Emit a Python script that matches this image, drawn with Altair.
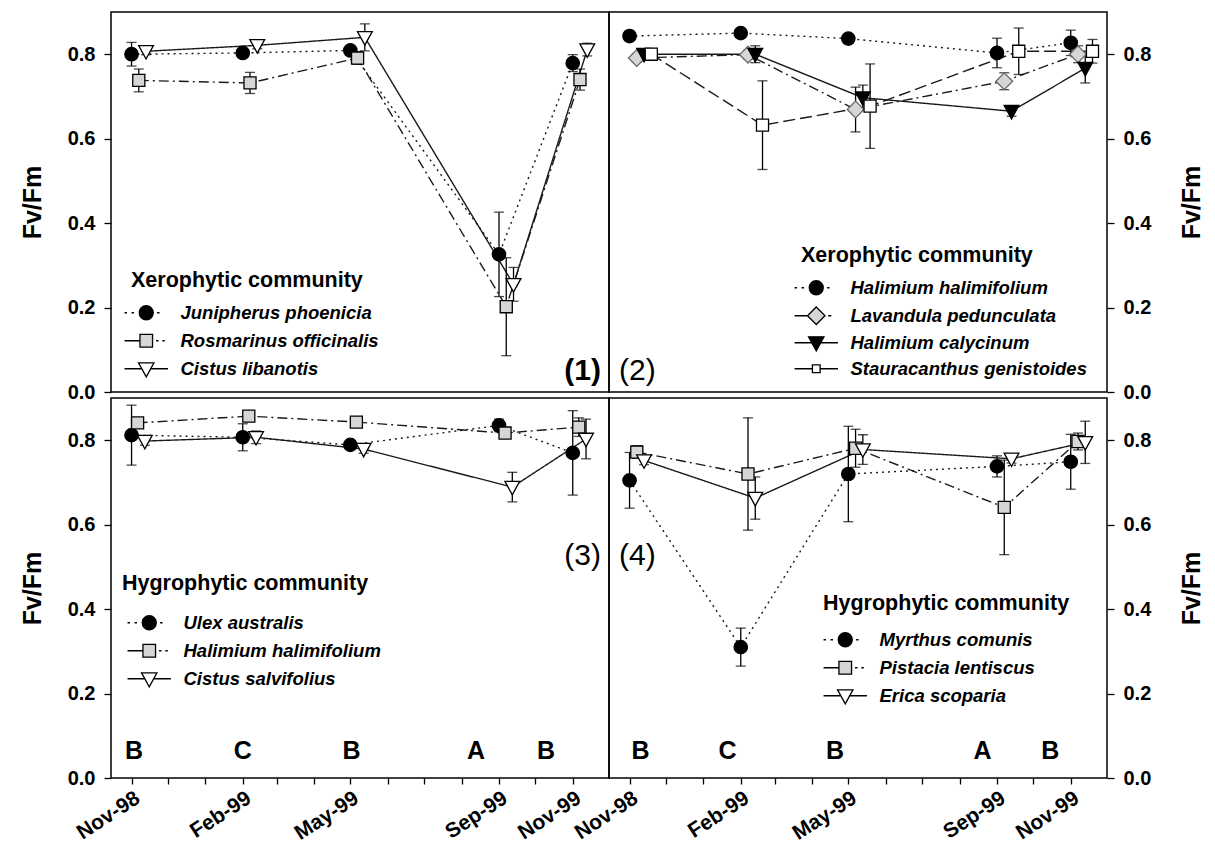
import altair as alt
import pandas as pd

# ---------------- data ----------------
months = ["1998-11-01", "1999-02-01", "1999-05-01", "1999-09-01", "1999-11-01"]
tick_months = ["1998-11-01", "1998-12-01", "1999-01-01", "1999-02-01", "1999-03-01",
               "1999-04-01", "1999-05-01", "1999-06-01", "1999-07-01", "1999-08-01",
               "1999-09-01", "1999-10-01", "1999-11-01"]
shown_labels = ["Nov-98", "Feb-99", "May-99", "Sep-99", "Nov-99"]

# Panel (1) Xerophytic community
p1_species = ["Junipherus phoenicia", "Rosmarinus officinalis", "Cistus libanotis"]
p1_day_shift = [0, 6, 12]
junipherus_val = [0.800, 0.803, 0.809, 0.326, 0.779]
junipherus_err = [0.028, 0.008, 0.010, 0.100, 0.020]
rosmarinus_val = [0.738, 0.732, 0.791, 0.202, 0.740]
rosmarinus_err = [0.027, 0.025, 0.015, 0.116, 0.025]
cistus_lib_val = [0.807, 0.821, 0.840, 0.255, 0.811]
cistus_lib_err = [0.008, 0.008, 0.032, 0.040, 0.015]

# Panel (2) Xerophytic community
p2_species = ["Halimium halimifolium", "Lavandula pedunculata", "Halimium calycinum",
              "Stauracanthus genistoides"]
p2_day_shift = [0, 6, 12, 18]
halim_x_val = [0.843, 0.850, 0.837, 0.803, 0.827]
halim_x_err = [0.008, 0.010, 0.010, 0.035, 0.030]
lavandula_val = [0.791, 0.799, 0.669, 0.736, 0.800]
lavandula_err = [0.010, 0.010, 0.053, 0.020, 0.020]
calycinum_val = [0.800, 0.800, 0.697, 0.665, 0.767]
calycinum_err = [0.010, 0.020, 0.030, 0.012, 0.035]
stauracanthus_val = [0.800, 0.632, 0.677, 0.807, 0.807]
stauracanthus_err = [0.012, 0.105, 0.100, 0.055, 0.028]

# Panel (3) Hygrophytic community
p3_species = ["Ulex australis", "Halimium halimifolium", "Cistus salvifolius"]
p3_day_shift = [0, 5, 11]
ulex_val = [0.812, 0.807, 0.789, 0.835, 0.770]
ulex_err = [0.071, 0.032, 0.008, 0.015, 0.100]
halim_h_val = [0.841, 0.857, 0.843, 0.817, 0.831]
halim_h_err = [0.010, 0.010, 0.008, 0.010, 0.022]
cistus_sal_val = [0.798, 0.807, 0.779, 0.689, 0.803]
cistus_sal_err = [0.010, 0.015, 0.010, 0.035, 0.047]

# Panel (4) Hygrophytic community
p4_species = ["Myrthus comunis", "Pistacia lentiscus", "Erica scoparia"]
p4_day_shift = [0, 6, 12]
myrthus_val = [0.705, 0.310, 0.720, 0.738, 0.749]
myrthus_err = [0.066, 0.045, 0.113, 0.025, 0.065]
pistacia_val = [0.772, 0.720, 0.781, 0.641, 0.797]
pistacia_err = [0.015, 0.133, 0.045, 0.112, 0.020]
erica_val = [0.752, 0.663, 0.778, 0.756, 0.795]
erica_err = [0.010, 0.050, 0.035, 0.010, 0.050]

# significance letters under the bottom panels
letters = ["B", "C", "B", "A", "B"]
p3_letter_dates = ["1998-11-03", "1999-02-01", "1999-05-02", "1999-08-13", "1999-10-10"]
p4_letter_dates = ["1998-11-10", "1999-01-21", "1999-04-20", "1999-08-20", "1999-10-15"]

# ---------------- styles ----------------
FONT = "Liberation Sans"
CIRCLE = "M1,0A1,1,0,1,1,-1,0A1,1,0,1,1,1,0Z"
SQUARE = "M-0.9,-0.9H0.9V0.9H-0.9Z"
TRI = "M-1.1,-0.85H1.1L0,1.15Z"
DIAMOND = "M0,-1.25L1.25,0L0,1.25L-1.25,0Z"
SMALLSQ = "M-0.55,-0.55H0.55V0.55H-0.55Z"

DOT = [2, 4]
DASHDOT = [10, 4, 2, 4]
SOLID = [1, 0]
LONGDASH = [12, 5]

L_DOT = "M-3.1,0h0.35M-2.1,0h0.35M1.55,0h0.35"
L_DASHDOT = "M-3.1,0H-0.9M1.4,0h0.35M2.3,0h0.35"
L_DASHDOT_D = "M-3.1,0H-1.25M1.7,0h0.45"
L_SOLID_T = "M-3.1,0H-0.6M0.6,0H3.1"
L_SOLID_S = "M-3.1,0H-0.55M0.55,0H3.1"

STYLE = {
    "circle_dot": dict(marker=CIRCLE, fill="#000000", stroke="#000000", dash=DOT, legend=L_DOT + CIRCLE),
    "square_dd": dict(marker=SQUARE, fill="#d6d6d6", stroke="#000000", dash=DASHDOT, legend=L_DASHDOT + SQUARE),
    "tri_white": dict(marker=TRI, fill="#ffffff", stroke="#000000", dash=SOLID, legend=L_SOLID_T + TRI),
    "tri_black": dict(marker=TRI, fill="#000000", stroke="#000000", dash=SOLID, legend=L_SOLID_T + TRI),
    "diamond_dd": dict(marker=DIAMOND, fill="#d6d6d6", stroke="#666666", dash=DASHDOT, legend=L_DASHDOT_D + DIAMOND),
    "square_white": dict(marker=SQUARE, fill="#ffffff", stroke="#000000", dash=LONGDASH, legend=L_SOLID_S + SMALLSQ),
}


def utc(s):
    return alt.DateTime(year=int(s[:4]), month=int(s[5:7]), date=int(s[8:10]), utc=True)


x_scale = alt.Scale(type="utc", domain=[utc("1998-10-15"), utc("1999-12-01")])
y_scale = alt.Scale(domain=[0, 0.9], nice=False, zero=False)

label_expr = ("indexof(" + str(shown_labels) + ", utcFormat(datum.value, '%b-%y')) >= 0"
              " ? utcFormat(datum.value, '%b-%y') : ''")


def build_df(species, shifts, vals, errs):
    rows = []
    for sp, sh, v, e in zip(species, shifts, vals, errs):
        for d, vv, ee in zip(months, v, e):
            day = (pd.Timestamp(d) + pd.Timedelta(days=sh)).strftime("%Y-%m-%d")
            rows.append({"species": sp, "date": day, "value": vv, "err": ee})
    return pd.DataFrame(rows)


def panel(df, species, styles, title, lx, ly, soff, tpad, rpad, side, show_x, plabel, px, py,
          palign, pweight, letter_dates=None):
    if show_x:
        x_axis = alt.Axis(values=[utc(s) for s in tick_months], labelExpr=label_expr,
                          labelAngle=327, labelAlign="right", labelBaseline="top",
                          labelFontSize=21, labelFontWeight="bold", labelPadding=3,
                          labelOverlap=False, tickSize=6, tickWidth=1.3, title=None)
    else:
        x_axis = None
    x = alt.X("date:T", scale=x_scale, axis=x_axis)
    y_axis = alt.Axis(orient=side, values=[0, 0.2, 0.4, 0.6, 0.8], format=".1f",
                      labelFontSize=20, labelFontWeight="bold", labelPadding=9,
                      tickSize=7, tickWidth=1.3, title="Fv/Fm", titleFontSize=25,
                      titleFontWeight="bold", titlePadding=(22 if side == "left" else 29),
                      titleAngle=270, titleBaseline=("bottom" if side == "left" else "top"))

    def Y(field):
        return alt.Y(field, scale=y_scale, axis=y_axis)

    base = alt.Chart(df)
    lines = base.mark_line(color="#1a1a1a", strokeWidth=1.4).encode(
        x=x, y=Y("value:Q"),
        strokeDash=alt.StrokeDash("species:N", scale=alt.Scale(
            domain=species, range=[STYLE[s]["dash"] for s in styles]), legend=None),
    )
    eb = base.transform_calculate(lo="datum.value - datum.err", hi="datum.value + datum.err")
    rules = eb.mark_rule(color="black", strokeWidth=1.3).encode(x=x, y=Y("lo:Q"), y2="hi:Q")
    cap_lo = eb.mark_tick(orient="horizontal", size=10, thickness=1.3, color="black").encode(
        x=x, y=Y("lo:Q"))
    cap_hi = eb.mark_tick(orient="horizontal", size=10, thickness=1.3, color="black").encode(
        x=x, y=Y("hi:Q"))
    points = base.mark_point(filled=True, size=180, strokeWidth=1.3, opacity=1).encode(
        x=x, y=Y("value:Q"),
        shape=alt.Shape("species:N", scale=alt.Scale(
            domain=species, range=[STYLE[s]["marker"] for s in styles]), legend=None),
        fill=alt.Fill("species:N", scale=alt.Scale(
            domain=species, range=[STYLE[s]["fill"] for s in styles]), legend=None),
        stroke=alt.Stroke("species:N", scale=alt.Scale(
            domain=species, range=[STYLE[s]["stroke"] for s in styles]), legend=None),
    )
    # legend: an empty layer whose shape scale holds line+marker glyphs
    legend = alt.Legend(
        title=title, orient="none", legendX=lx, legendY=ly, direction="vertical",
        padding=0, symbolSize=196, symbolOffset=soff, labelOffset=25, rowPadding=rpad,
        titlePadding=tpad, titleFontSize=21.5, titleFontWeight="bold", titleFont=FONT,
        titleLimit=400, labelLimit=400, labelFontSize=18.5, labelFontStyle="italic",
        labelFontWeight="bold", labelFont=FONT, labelColor="black", titleColor="black",
        symbolStrokeWidth=1.3, symbolOpacity=1,
    )
    leg_df = pd.DataFrame({"entry": pd.Series([], dtype="object")})
    leg = alt.Chart(leg_df).mark_point(filled=True, opacity=1).encode(
        shape=alt.Shape("entry:N", scale=alt.Scale(
            domain=species, range=[STYLE[s]["legend"] for s in styles]), legend=legend),
        fill=alt.Fill("entry:N", scale=alt.Scale(
            domain=species, range=[STYLE[s]["fill"] for s in styles]), legend=legend),
        stroke=alt.Stroke("entry:N", scale=alt.Scale(
            domain=species, range=["#000000" for s in styles]), legend=legend),
    )
    lab = alt.Chart(pd.DataFrame({"t": [plabel]})).mark_text(
        align=palign, baseline="middle", fontSize=30, fontWeight=pweight, font=FONT,
        color="black").encode(text="t:N", x=alt.value(px), y=alt.value(py))
    layers = [lines, rules, cap_lo, cap_hi, points, leg, lab]
    if letter_dates is not None:
        ldf = pd.DataFrame({"date": letter_dates, "letter": letters})
        let = alt.Chart(ldf).mark_text(fontSize=25, fontWeight="bold", font=FONT,
                                       baseline="middle", color="black").encode(
            x=x, y=alt.value(353), text="letter:N")
        layers.append(let)
    return alt.layer(*layers).resolve_scale(
        shape="independent", fill="independent", stroke="independent"
    ).properties(width=498, height=380)


df1 = build_df(p1_species, p1_day_shift,
               [junipherus_val, rosmarinus_val, cistus_lib_val],
               [junipherus_err, rosmarinus_err, cistus_lib_err])
df2 = build_df(p2_species, p2_day_shift,
               [halim_x_val, lavandula_val, calycinum_val, stauracanthus_val],
               [halim_x_err, lavandula_err, calycinum_err, stauracanthus_err])
df3 = build_df(p3_species, p3_day_shift,
               [ulex_val, halim_h_val, cistus_sal_val],
               [ulex_err, halim_h_err, cistus_sal_err])
df4 = build_df(p4_species, p4_day_shift,
               [myrthus_val, pistacia_val, erica_val],
               [myrthus_err, pistacia_err, erica_err])

c1 = panel(df1, p1_species, ["circle_dot", "square_dd", "tri_white"], "Xerophytic community",
           20, 258, 6, 12, 9, "left", False, "(1)", 490, 359, "right", "bold")
c2 = panel(df2, p2_species, ["circle_dot", "diamond_dd", "tri_black", "square_white"],
           "Xerophytic community", 192, 233, 6, 12, 6, "right", False, "(2)", 10, 359, "left",
           "normal")
c3 = panel(df3, p3_species, ["circle_dot", "square_dd", "tri_white"], "Hygrophytic community",
           11, 175, 18, 19, 9, "left", True, "(3)", 490, 158, "right", "normal", p3_letter_dates)
c4 = panel(df4, p4_species, ["circle_dot", "square_dd", "tri_white"], "Hygrophytic community",
           214, 195, 13, 16, 9, "right", True, "(4)", 10, 158, "left", "normal", p4_letter_dates)

chart = alt.concat(c1, c2, c3, c4, columns=2, spacing={"row": 6, "column": 0},
                   bounds="flush").resolve_scale(
    shape="independent", fill="independent", stroke="independent",
    strokeDash="independent").resolve_legend(
    shape="independent", fill="independent", stroke="independent",
    strokeDash="independent").properties(
    padding={"left": 11, "top": 3, "right": 0, "bottom": 0}, background="white"
).configure_view(stroke="black", strokeWidth=1.5).configure_axis(
    labelFont=FONT, titleFont=FONT, labelColor="black", titleColor="black",
    tickColor="black", grid=False, domain=False
).configure_text(font=FONT)

chart.save("out.html", embed_options={"renderer": "svg", "actions": False})
